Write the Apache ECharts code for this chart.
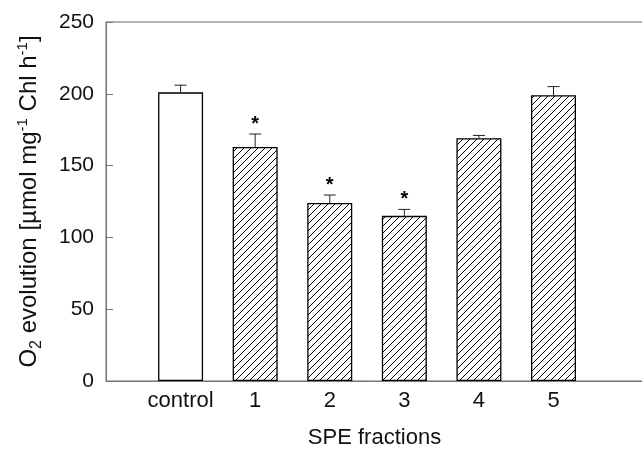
<!DOCTYPE html>
<html>
<head>
<meta charset="utf-8">
<script src="https://cdn.jsdelivr.net/npm/echarts@6/dist/echarts.min.js"></script>
<style>
html, body { margin: 0; padding: 0; background: #fff; }
#container { width: 642px; height: 451px; }
</style>
</head>
<body>
<div id="container"></div>
<script>
// data
var categories = ['control', '1', '2', '3', '4', '5'];
var rates = [201, 163, 124, 115, 169, 199];
var errors = [5, 9, 5.5, 4.5, 2, 6];
var significant = [false, true, true, true, false, false];
var yTicks = [0, 50, 100, 150, 200, 250];

var FONT = '"Liberation Sans", Arial, sans-serif';

// diagonal hatching tile
function makeHatch() {
	var c = document.createElement('canvas');
	c.width = 7;
	c.height = 7;
	var ctx = c.getContext('2d');
	ctx.fillStyle = '#fff';
	ctx.fillRect(0, 0, 7, 7);
	ctx.strokeStyle = '#000';
	ctx.lineWidth = 1;
	ctx.beginPath();
	ctx.moveTo(-1, 8); ctx.lineTo(8, -1);
	ctx.moveTo(-1, 1); ctx.lineTo(1, -1);
	ctx.moveTo(6, 8); ctx.lineTo(8, 6);
	ctx.stroke();
	return c;
}
var hatch = makeHatch();

var myChart = echarts.init(document.getElementById('container'));

var barData = function() {
	var arr = [];
	for (var i = 0; i < rates.length; ++i) {
		arr.push({
			value: [i, rates[i]],
			itemStyle: {
				color: i === 0 ? '#fff' : { image: hatch, repeat: 'repeat' },
				borderColor: '#000',
				borderWidth: 1.3
			}
		});
	}
	return arr;
}();

var errData = function() {
	var arr = [];
	for (var i = 0; i < rates.length; ++i)
		arr.push([i, rates[i], errors[i], significant[i] ? 1 : 0]);
	return arr;
}();

function renderErr(params, api) {
	var x = api.value(0), v = api.value(1), e = api.value(2);
	var base = api.coord([x, v]);
	var top = api.coord([x, v + e]);
	var children = [
		{ type: 'line', shape: { x1: base[0], y1: base[1], x2: top[0], y2: top[1] },
		  style: { stroke: '#222', lineWidth: 1 } },
		{ type: 'line', shape: { x1: top[0] - 6, y1: top[1], x2: top[0] + 6, y2: top[1] },
		  style: { stroke: '#222', lineWidth: 1 } }
	];
	if (api.value(3)) {
		children.push({
			type: 'text',
			style: { text: '*', x: top[0], y: top[1] - 10, align: 'center', verticalAlign: 'middle',
			         font: 'bold 20px ' + FONT, fill: '#000' }
		});
	}
	return { type: 'group', children: children };
}

option = {
	animation: false,
	grid: {
		left: 106,
		right: -1,
		top: 22,
		bottom: 70,
		outerBoundsMode: 'none',
		containLabel: false,
		show: true,
		borderColor: '#666',
		borderWidth: 1
	},
	xAxis: {
		type: 'value',
		min: -1,
		max: 6.2,
		interval: 1,
		name: 'SPE fractions',
		nameLocation: 'middle',
		nameGap: 46,
		nameTextStyle: { fontFamily: FONT, fontSize: 22, color: '#111' },
		axisLine: { onZero: false, lineStyle: { color: '#777', width: 1 } },
		axisTick: { show: false },
		splitLine: { show: false },
		axisLabel: {
			fontFamily: FONT, fontSize: 22, color: '#111', margin: 9,
			formatter: function(v) {
				if (v !== Math.round(v) || categories[v] === undefined) return '';
				return categories[v];
			}
		}
	},
	yAxis: {
		type: 'value',
		min: yTicks[0],
		max: yTicks[yTicks.length - 1],
		interval: yTicks[1] - yTicks[0],
		name: '{t|O}{s|2}{t| evolution [µmol mg}{p|-1}{t| Chl h}{p|-1}{t|]}',
		nameLocation: 'middle',
		nameGap: 65,
		nameTextStyle: {
			fontFamily: FONT, fontSize: 24, color: '#111',
			rich: {
				t: { fontFamily: FONT, fontSize: 24, color: '#111' },
				s: { fontFamily: FONT, fontSize: 16, color: '#111', verticalAlign: 'bottom', padding: [0, 0, -4, 0] },
				p: { fontFamily: FONT, fontSize: 15, color: '#111', verticalAlign: 'top', padding: [-2, 0, 0, 0] }
			}
		},
		axisLine: { show: true, onZero: false, lineStyle: { color: '#777', width: 1 } },
		axisTick: { show: true, inside: true, length: 7, lineStyle: { color: '#777' } },
		splitLine: { show: false },
		axisLabel: { fontFamily: FONT, fontSize: 21, color: '#111', margin: 12 }
	},
	series: [
		{
			type: 'bar',
			barWidth: 45,
			data: barData
		},
		{
			type: 'custom',
			renderItem: renderErr,
			data: errData,
			z: 3
		}
	]
};
myChart.setOption(option);
</script>
</body>
</html>
